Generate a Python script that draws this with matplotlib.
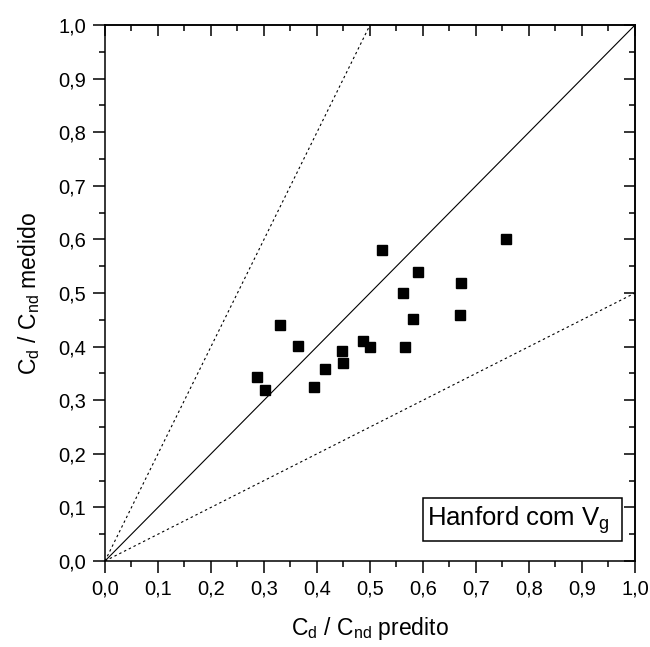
import matplotlib
matplotlib.use('Agg')
import matplotlib.pyplot as plt
import numpy as np
from matplotlib.patches import Rectangle
from matplotlib.ticker import FuncFormatter, MultipleLocator

plt.rcParams['font.family'] = ['Liberation Sans', 'DejaVu Sans']
plt.rcParams['mathtext.default'] = 'regular'

# C_d / C_nd predito (x) e medido (y)
predito = [0.287, 0.301, 0.331, 0.365, 0.395, 0.415, 0.448, 0.450, 0.487,
           0.500, 0.523, 0.562, 0.566, 0.581, 0.591, 0.670, 0.672, 0.756]
medido = [0.343, 0.319, 0.440, 0.402, 0.325, 0.358, 0.392, 0.370, 0.410,
          0.400, 0.580, 0.500, 0.399, 0.451, 0.540, 0.459, 0.519, 0.601]
linha_x = [0.0, 1.0]
fatores = [1.0, 2.0, 0.5]  # y = x, y = 2x, y = x/2


def main():
    fig = plt.figure(figsize=(6.5, 6.47), dpi=100)
    ax = fig.add_axes([0.1615, 0.1329, 0.8154, 0.8284])

    lx = np.array(linha_x)
    ax.plot(lx, fatores[0] * lx, color='black', lw=0.8)
    for f in fatores[1:]:
        ax.plot(lx, f * lx, color='black', lw=0.8, linestyle=(0, (2.2, 2.6)))

    ax.plot(predito, medido, 's', color='black', ms=6.8, zorder=3)

    ax.set_xlim(0, 1)
    ax.set_ylim(0, 1)

    fmt = FuncFormatter(lambda v, p: ('%.1f' % v).replace('.', ','))
    for axis in (ax.xaxis, ax.yaxis):
        axis.set_major_locator(MultipleLocator(0.1))
        axis.set_minor_locator(MultipleLocator(0.05))
        axis.set_major_formatter(fmt)

    ax.tick_params(which='both', direction='out', width=1.1, labelsize=14.5, pad=5)
    ax.tick_params(which='major', length=8.5)
    ax.tick_params(which='minor', length=4.5)
    for s in ax.spines.values():
        s.set_linewidth(1.1)

    # ticks internos no topo e na direita
    top = ax.secondary_xaxis('top')
    right = ax.secondary_yaxis('right')
    for sec, axis in ((top, top.xaxis), (right, right.yaxis)):
        axis.set_major_locator(MultipleLocator(0.1))
        axis.set_minor_locator(MultipleLocator(0.05))
        sec.tick_params(which='both', direction='in', width=1.1, labelleft=False,
                        labelright=False, labeltop=False, labelbottom=False)
        sec.tick_params(which='major', length=8)
        sec.tick_params(which='minor', length=4.5)
        for s in sec.spines.values():
            s.set_linewidth(1.1)

    ax.set_xlabel(r'$C_d$ / $C_{nd}$ predito', fontsize=16.5, labelpad=12)
    ax.set_ylabel(r'$C_d$ / $C_{nd}$ medido', fontsize=16.5, labelpad=12)

    ax.add_patch(Rectangle((0.60, 0.038), 0.375, 0.080, transform=ax.transAxes,
                           fill=False, edgecolor='black', lw=1.1, zorder=4))
    ax.text(0.607, 0.077, r'Hanford com $V_g$', transform=ax.transAxes,
            fontsize=18.5, va='center', ha='left', zorder=5)

    fig.savefig('out.png', dpi=100)


if __name__ == '__main__':
    main()
